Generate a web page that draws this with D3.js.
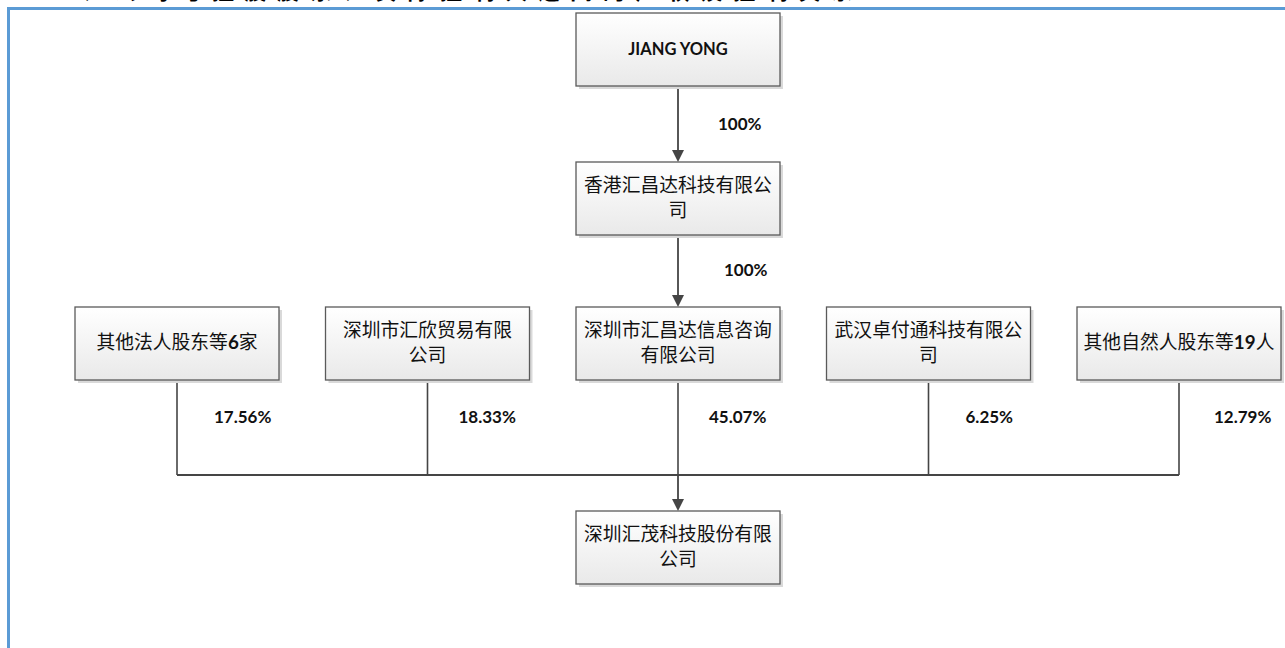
<!DOCTYPE html>
<html><head><meta charset="utf-8">
<script src="https://cdn.jsdelivr.net/npm/d3@7"></script>
<style>body{margin:0;background:#fff}svg{display:block}</style>
</head><body>
<svg id="chart" width="1285" height="648"></svg>
<script>
// ---- data ----
const headingText = "3、公司与控股股东、实际控制人之间的产权及控制关系";
const chainNodes = ["JIANG YONG", "香港汇昌达科技有限公\n司"];
const chainPercents = ["100%", "100%"];
const shareholders = [
  "其他法人股东等6家",
  "深圳市汇欣贸易有限\n公司",
  "深圳市汇昌达信息咨询\n有限公司",
  "武汉卓付通科技有限公\n司",
  "其他自然人股东等19人"
];
const shareholdings = ["17.56%", "18.33%", "45.07%", "6.25%", "12.79%"];
const targetLabel = "深圳汇茂科技股份有限\n公司";

// ---- layout ----
const svg = d3.select("#chart");
const W = 1285, H = 648;
const boxW = 204, boxH = 73;
const x = d3.scalePoint().domain(d3.range(shareholders.length)).range([177, 1179]);
const cx = x(2);
const levels = {chain0: 13, chain1: 162, row: 307, target: 511};
const busY = 475;
const lineColor = "#454545";
const cjk = "'Noto Sans CJK SC','Noto Sans',sans-serif";
const latin = "Lato, 'Open Sans', sans-serif";

const defs = svg.append("defs");
const grad = defs.append("linearGradient").attr("id", "boxGrad").attr("x1", 0).attr("y1", 0).attr("x2", 0).attr("y2", 1);
grad.append("stop").attr("offset", "0%").attr("stop-color", "#ffffff");
grad.append("stop").attr("offset", "100%").attr("stop-color", "#e9e9e9");

// heading (cut off at the top edge, as in the reference) and frame
svg.append("text").attr("x", 58).attr("y", -1)
  .attr("font-family", cjk).attr("font-weight", 700).attr("font-size", 22)
  .attr("textLength", 795).attr("lengthAdjust", "spacing")
  .attr("fill", "#000").text(headingText);
svg.append("path").attr("d", `M8.5,${H} V8.5 H${W}`)
  .attr("fill", "none").attr("stroke", "#5b9bd5").attr("stroke-width", 3);

function drawBox(cxp, top, label) {
  const g = svg.append("g");
  g.append("rect").attr("x", cxp - boxW / 2 + 3).attr("y", top + 3).attr("width", boxW).attr("height", boxH)
    .attr("fill", "#d9d9d9");
  g.append("rect").attr("x", cxp - boxW / 2).attr("y", top).attr("width", boxW).attr("height", boxH)
    .attr("fill", "url(#boxGrad)").attr("stroke", "#5a5a5a").attr("stroke-width", 1.3);
  const lines = label.split("\n");
  const lh = 25;
  const cy = top + boxH / 2 - 1;
  const isLatin = /^[A-Z ]+$/.test(label);
  const t = g.append("text").attr("text-anchor", "middle").attr("fill", "#111");
  if (isLatin) t.attr("font-family", latin).attr("font-weight", 700).attr("font-size", 16.5);
  else t.attr("font-family", cjk).attr("font-size", 18.8);
  lines.forEach((ln, i) => {
    const y = cy + (i - (lines.length - 1) / 2) * lh + 6.5;
    const lineSpan = t.append("tspan").attr("x", cxp).attr("y", y);
    if (isLatin) { lineSpan.text(ln); return; }
    ln.split(/(\d+)/).filter(s => s.length).forEach(part => {
      const sp = lineSpan.append("tspan").text(part);
      if (/\d/.test(part)) sp.attr("font-family", latin).attr("font-weight", 700);
    });
  });
}

function arrowHead(px, tipY) {
  svg.append("path").attr("d", `M${px - 6},${tipY - 12} L${px + 6},${tipY - 12} L${px},${tipY} Z`)
    .attr("fill", lineColor);
}
function vline(px, y1, y2, w) {
  svg.append("line").attr("x1", px).attr("x2", px).attr("y1", y1).attr("y2", y2)
    .attr("stroke", lineColor).attr("stroke-width", w || 1.6);
}
function pct(px, y, txt) {
  svg.append("text").attr("x", px).attr("y", y + 6)
    .attr("font-family", latin).attr("font-weight", 700).attr("font-size", 17)
    .attr("fill", "#111").text(txt);
}

// chain connectors
vline(cx, levels.chain0 + boxH, levels.chain1 - 4, 1.8);
arrowHead(cx, levels.chain1);
pct(cx + 40, 124, chainPercents[0]);
vline(cx, levels.chain1 + boxH, levels.row - 4, 1.8);
arrowHead(cx, levels.row);
pct(cx + 46, 270, chainPercents[1]);

// shareholder connectors
shareholders.forEach((s, i) => {
  vline(x(i), levels.row + boxH, busY, 1.6);
});
svg.append("line").attr("x1", x(0)).attr("x2", x(shareholders.length - 1)).attr("y1", busY).attr("y2", busY)
  .attr("stroke", lineColor).attr("stroke-width", 1.8);
vline(cx, busY, levels.target - 4, 1.8);
arrowHead(cx, levels.target);
const pctOffsets = [37, 31, 31, 37, 35];
shareholdings.forEach((p, i) => pct(x(i) + pctOffsets[i], 417, p));

// boxes
chainNodes.forEach((n, i) => drawBox(cx, i === 0 ? levels.chain0 : levels.chain1, n));
shareholders.forEach((s, i) => drawBox(x(i), levels.row, s));
drawBox(cx, levels.target, targetLabel);
</script>
</body></html>
